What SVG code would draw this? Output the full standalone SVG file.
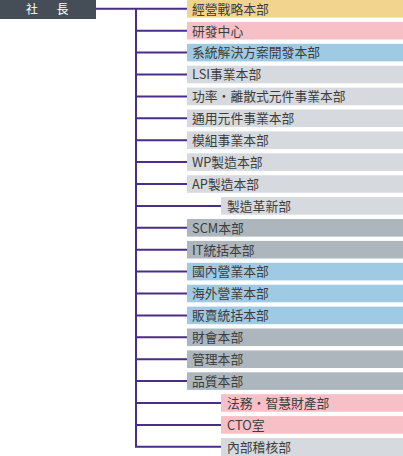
<svg xmlns="http://www.w3.org/2000/svg" width="403" height="456" viewBox="0 0 403 456">
<style>
.t{font-family:"Noto Sans CJK TC","Noto Sans",sans-serif;font-size:12.8px;fill:#3c3c3c}
.y{fill:#f3d48f}.p{fill:#f7c0c7}.b{fill:#9fcae3}.g{fill:#d6dadf}.d{fill:#adb5bd}
.c{stroke:#4a2d86;stroke-width:2;fill:none}
</style>
<rect width="403" height="456" fill="#ffffff"/>
<g id="ceo">
<rect x="0" y="0" width="96" height="19" fill="#454e57"/>
<text x="32" y="14" text-anchor="middle" font-family="'Noto Sans CJK TC',sans-serif" font-size="12" fill="#ffffff">社</text>
<text x="62.5" y="14" text-anchor="middle" font-family="'Noto Sans CJK TC',sans-serif" font-size="12" fill="#ffffff">長</text>
</g>
<g id="connectors" class="c">
<path d="M96 8.8H187"/>
<path d="M136 8.8V446.8"/>
<path d="M136 30.7H187"/>
<path d="M136 52.6H187"/>
<path d="M136 74.5H187"/>
<path d="M136 96.4H187"/>
<path d="M136 118.3H187"/>
<path d="M136 140.2H187"/>
<path d="M136 162.1H187"/>
<path d="M136 184H187"/>
<path d="M136 205.9H221"/>
<path d="M136 227.8H187"/>
<path d="M136 249.7H187"/>
<path d="M136 271.6H187"/>
<path d="M136 293.5H187"/>
<path d="M136 315.4H187"/>
<path d="M136 337.3H187"/>
<path d="M136 359.2H187"/>
<path d="M136 381.1H187"/>
<path d="M136 403H221"/>
<path d="M136 424.9H221"/>
<path d="M135 446.8H221"/>
</g>
<g id="n0"><rect class="y" x="187" y="0" width="216" height="17.6"/><text class="t" x="192" y="13.6">經營戰略本部</text></g>
<g id="n1"><rect class="p" x="187" y="21.9" width="216" height="17.6"/><text class="t" x="192" y="35.5">研發中心</text></g>
<g id="n2"><rect class="b" x="187" y="43.8" width="216" height="17.6"/><text class="t" x="192" y="57.4">系統解決方案開發本部</text></g>
<g id="n3"><rect class="g" x="187" y="65.7" width="216" height="17.6"/><text class="t" x="192" y="79.3">LSI事業本部</text></g>
<g id="n4"><rect class="g" x="187" y="87.6" width="216" height="17.6"/><text class="t" x="192" y="101.2">功率・離散式元件事業本部</text></g>
<g id="n5"><rect class="g" x="187" y="109.5" width="216" height="17.6"/><text class="t" x="192" y="123.1">通用元件事業本部</text></g>
<g id="n6"><rect class="g" x="187" y="131.4" width="216" height="17.6"/><text class="t" x="192" y="145">模組事業本部</text></g>
<g id="n7"><rect class="g" x="187" y="153.3" width="216" height="17.6"/><text class="t" x="192" y="166.9">WP製造本部</text></g>
<g id="n8"><rect class="g" x="187" y="175.2" width="216" height="17.6"/><text class="t" x="192" y="188.8">AP製造本部</text></g>
<g id="n9"><rect class="g" x="221" y="197.1" width="182" height="17.6"/><text class="t" x="227" y="210.7">製造革新部</text></g>
<g id="n10"><rect class="d" x="187" y="219" width="216" height="17.6"/><text class="t" x="192" y="232.6">SCM本部</text></g>
<g id="n11"><rect class="d" x="187" y="240.9" width="216" height="17.6"/><text class="t" x="192" y="254.5">IT統括本部</text></g>
<g id="n12"><rect class="b" x="187" y="262.8" width="216" height="17.6"/><text class="t" x="192" y="276.4">國內營業本部</text></g>
<g id="n13"><rect class="b" x="187" y="284.7" width="216" height="17.6"/><text class="t" x="192" y="298.3">海外營業本部</text></g>
<g id="n14"><rect class="b" x="187" y="306.6" width="216" height="17.6"/><text class="t" x="192" y="320.2">販賣統括本部</text></g>
<g id="n15"><rect class="d" x="187" y="328.5" width="216" height="17.6"/><text class="t" x="192" y="342.1">財會本部</text></g>
<g id="n16"><rect class="d" x="187" y="350.4" width="216" height="17.6"/><text class="t" x="192" y="364">管理本部</text></g>
<g id="n17"><rect class="d" x="187" y="372.3" width="216" height="17.6"/><text class="t" x="192" y="385.9">品質本部</text></g>
<g id="n18"><rect class="p" x="221" y="394.2" width="182" height="17.6"/><text class="t" x="227" y="407.8">法務・智慧財產部</text></g>
<g id="n19"><rect class="p" x="221" y="416.1" width="182" height="17.6"/><text class="t" x="227" y="429.7">CTO室</text></g>
<g id="n20"><rect class="g" x="221" y="438" width="182" height="18"/><text class="t" x="227" y="451.6">內部稽核部</text></g>
</svg>
